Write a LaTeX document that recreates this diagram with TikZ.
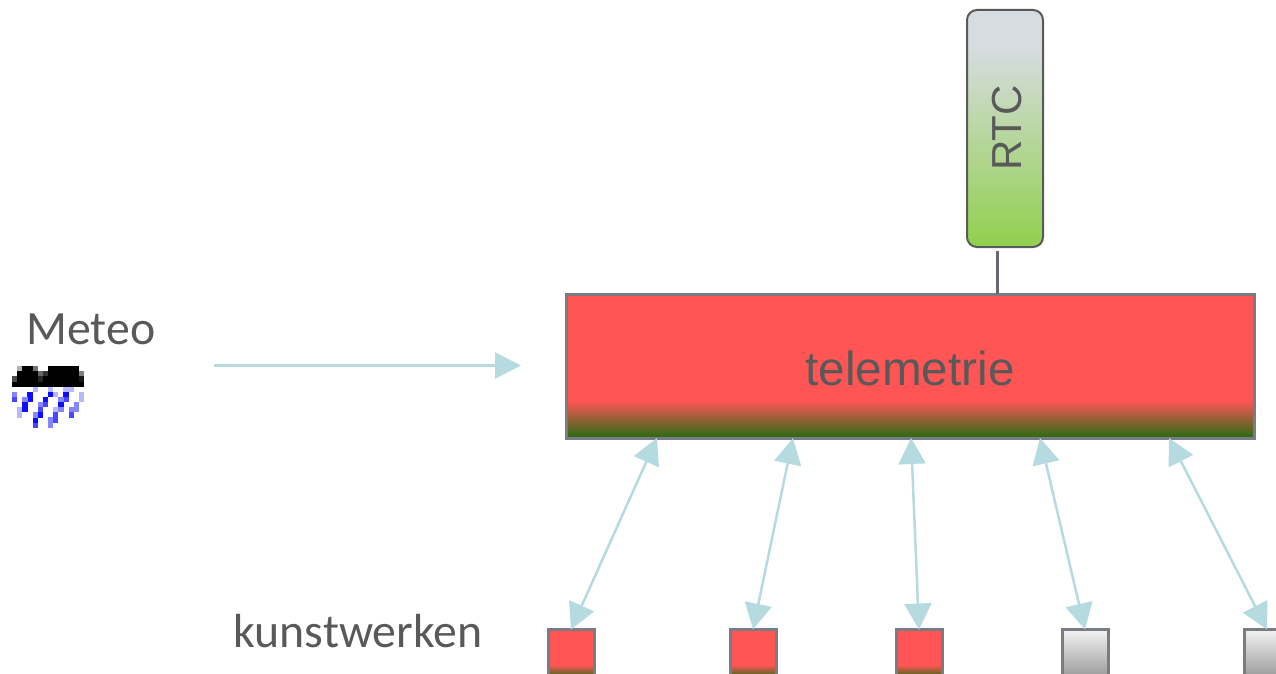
\documentclass[tikz,border=0pt]{standalone}
\usepackage{fontspec}
\setmainfont{Carlito}
\newfontfamily\arialf{Liberation Sans}
\usetikzlibrary{arrows.meta}
\definecolor{inkg}{HTML}{595959}
\definecolor{edgeg}{HTML}{777C85}
\definecolor{arrowb}{HTML}{B5DBE0}
\definecolor{redf}{HTML}{FF5555}
\definecolor{greenf}{HTML}{2E6B14}
\definecolor{rtctop}{HTML}{D6DCDF}
\definecolor{rtcbot}{HTML}{92D050}
\definecolor{greytop}{HTML}{F2F2F2}
\definecolor{greybot}{HTML}{9A9A9A}
\pgfdeclareverticalshading{redgreen}{100bp}{color(0bp)=(greenf); color(25.5bp)=(greenf); color(38bp)=(redf); color(100bp)=(redf)}
\pgfdeclareverticalshading{rtcshade}{100bp}{color(0bp)=(rtcbot); color(26bp)=(rtcbot); color(67bp)=(rtctop); color(100bp)=(rtctop)}
\tikzset{
  redbox/.style={draw=edgeg,line width=3pt,shading=redgreen,rectangle,inner sep=0pt,outer sep=0pt},
  greybox/.style={draw=edgeg,line width=3pt,top color=greytop,bottom color=greybot,rectangle,inner sep=0pt,outer sep=0pt},
  small/.style={minimum width=46pt,minimum height=48pt},
  link/.style={draw=arrowb,line width=2.5pt,{Triangle[length=26pt,width=27pt]}-{Triangle[length=26pt,width=27pt]}},
  feed/.style={draw=arrowb,line width=2.5pt,-{Triangle[length=26pt,width=26pt]}},
  stem/.style={draw=edgeg!85!black,line width=2.2pt},
  calibri/.style={text=inkg,font=\fontsize{47.8}{50}\selectfont,inner sep=0pt},
  arialt/.style={text=inkg,inner sep=0pt},
}
% one cell of the rain icon: col/row/colour
\newcommand{\iconcell}[3]{\fill[#3] ({12+5.14*#1},{366+5.14*#2}) rectangle ++(5.3,5.3);}
\begin{document}
\begin{tikzpicture}[x=1pt,y=-1pt]
\useasboundingbox (0,0) rectangle (1276,674);
\begin{scope}
\clip (0,0) rectangle (1276,674);
\node[redbox,minimum width=688pt,minimum height=144pt] (tele) at (910,366) {};
\node[arialt,font=\arialf\fontsize{47.7}{50}\selectfont] (teletxt) at (910,368) {telemetrie};
\node[draw=black!65,line width=2pt,rounded corners=10pt,shading=rtcshade,minimum width=76pt,minimum height=237pt,inner sep=0pt] (rtc) at (1005,128.5) {};
\node[arialt,rotate=90,font=\arialf\fontsize{42}{44}\selectfont] (rtctxt) at (1007,128) {RTC};
\node[redbox,small] (k1) at (571,653.5) {};
\node[redbox,small] (k2) at (753,653.5) {};
\node[redbox,small] (k3) at (919,653.5) {};
\node[greybox,small] (k4) at (1085,653.5) {};
\node[greybox,small] (k5) at (1267,653.5) {};
\end{scope}
\node[calibri] (meteo) at (91,329) {Meteo};
\node[calibri] (kunst) at (358,631) {kunstwerken};
\coordinate (feedstart) at (214,365.5);
\coordinate (feedend) at (521,365.5);
\draw[feed] (feedstart) -- (feedend);
\draw[stem,shorten <=2.5pt] ([xshift=-7.5pt]rtc.south) -- ([xshift=-7.5pt]rtc.south |- tele.north);
\draw[link] ([xshift=-253pt]tele.south) -- (k1.north);
\draw[link] ([xshift=-117pt]tele.south) -- (k2.north);
\draw[link] ([xshift=1pt]tele.south) -- (k3.north);
\draw[link] ([xshift=130pt]tele.south) -- (k4.north);
\draw[link] ([xshift=259pt]tele.south) -- (k5.north);
% rain icon
\foreach \r/\a/\b in {0/2/3,0/7/12,1/1/4,1/7/12,2/1/4,2/6/12,3/0/13}{
  \foreach \c in {\a,...,\b}{\iconcell{\c}{\r}{black}}
}
\iconcell{1}{0}{black!30}\iconcell{4}{0}{black!55}
\iconcell{5}{1}{black!60}\iconcell{6}{1}{black!80}\iconcell{13}{1}{black!50}
\iconcell{0}{2}{black!70}\iconcell{5}{2}{black!85}\iconcell{13}{2}{black!90}
\foreach \c/\r in {3/5,7/5,10/5,3/6,6/6,2/7,9/7,2/8,5/9,4/10}{\iconcell{\c}{\r}{blue!95}}
\foreach \c/\r in {0/6,10/6,6/7,5/8,8/9,11/9,8/10,4/11}{\iconcell{\c}{\r}{blue!72}}
\foreach \c/\r in {0/5,2/6,9/6,5/7,12/7,9/8,11/8,12/8,4/9,7/10,7/11}{\iconcell{\c}{\r}{blue!48}}
\foreach \c/\r in {4/4,7/4,10/4,11/4,8/5,13/5,13/6,1/8,8/8,1/9}{\iconcell{\c}{\r}{blue!28}}
\end{tikzpicture}
\end{document}
